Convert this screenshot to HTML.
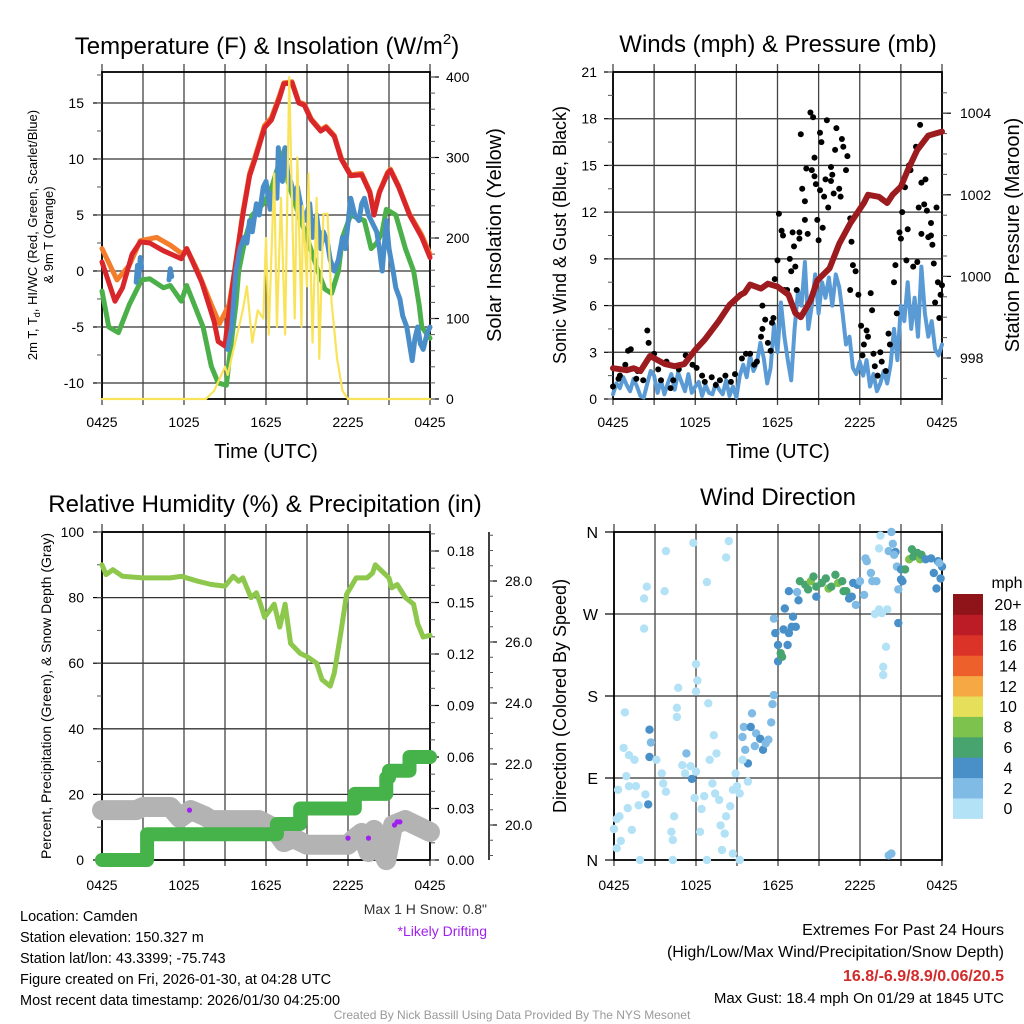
<!DOCTYPE html>
<html><head><meta charset="utf-8"><style>
html,body{margin:0;padding:0;background:#fff;}
svg{display:block;font-family:"Liberation Sans",sans-serif;}
</style></head><body>
<svg id="c" width="1024" height="1024" viewBox="0 0 1024 1024" xmlns="http://www.w3.org/2000/svg">
<rect width="1024" height="1024" fill="#fff"/>
<g id="p1"></g>
<g id="p2"></g>
<g id="p3"></g>
<g id="p4"></g>
<g id="txt">
<text x="267" y="54" font-size="24" text-anchor="middle">Temperature (F) &amp; Insolation (W/m<tspan font-size="15" dy="-10">2</tspan><tspan dy="10">)</tspan></text>
<text x="778" y="52" font-size="24" text-anchor="middle">Winds (mph) &amp; Pressure (mb)</text>
<text x="265" y="512" font-size="24" text-anchor="middle">Relative Humidity (%) &amp; Precipitation (in)</text>
<text x="778" y="505" font-size="24" text-anchor="middle">Wind Direction</text>
<text x="266" y="458" font-size="20" text-anchor="middle">Time (UTC)</text>
<text x="778" y="458" font-size="20" text-anchor="middle">Time (UTC)</text>
<text transform="translate(37,235) rotate(-90)" font-size="13" text-anchor="middle">2m T, T<tspan font-size="9" dy="3">d</tspan><tspan dy="-3">, HI/WC (Red, Green, Scarlet/Blue)</tspan></text>
<text transform="translate(53,235) rotate(-90)" font-size="13" text-anchor="middle">&amp; 9m T (Orange)</text>
<text transform="translate(501,235) rotate(-90)" font-size="20" text-anchor="middle">Solar Insolation (Yellow)</text>
<text transform="translate(566,235) rotate(-90)" font-size="18" text-anchor="middle">Sonic Wind &amp; Gust (Blue, Black)</text>
<text transform="translate(1019,235) rotate(-90)" font-size="20" text-anchor="middle">Station Pressure (Maroon)</text>
<text transform="translate(51,696) rotate(-90)" font-size="14" text-anchor="middle">Percent, Precipitation (Green), &amp; Snow Depth (Gray)</text>
<text transform="translate(566,696) rotate(-90)" font-size="18" text-anchor="middle">Direction (Colored By Speed)</text>
<text x="487" y="914" font-size="14" text-anchor="end" fill="#333">Max 1 H Snow: 0.8"</text>
<text x="487" y="936" font-size="14" text-anchor="end" fill="#a020f0">*Likely Drifting</text>
<g font-size="14.5">
<text x="20" y="921">Location: Camden</text>
<text x="20" y="942">Station elevation: 150.327 m</text>
<text x="20" y="963">Station lat/lon: 43.3399; -75.743</text>
<text x="20" y="984">Figure created on Fri, 2026-01-30, at 04:28 UTC</text>
<text x="20" y="1005">Most recent data timestamp: 2026/01/30 04:25:00</text>
</g>
<g font-size="16" text-anchor="end">
<text x="1004" y="935">Extremes For Past 24 Hours</text>
<text x="1004" y="957">(High/Low/Max Wind/Precipitation/Snow Depth)</text>
<text x="1004" y="981" fill="#d12b2b" font-weight="bold">16.8/-6.9/8.9/0.06/20.5</text>
<text x="1004" y="1003" font-size="15">Max Gust: 18.4 mph On 01/29 at 1845 UTC</text>
</g>
<text x="512" y="1019" font-size="12" text-anchor="middle" fill="#999">Created By Nick Bassill Using Data Provided By The NYS Mesonet</text>
</g>
</svg>
<script>
// ---------- DATA ----------
const timeTickLabels = ["0425","1025","1625","2225","0425"];
const tempTicks = [15,10,5,0,-5,-10];
const solarTicks = [0,100,200,300,400];
const windTicks = [0,3,6,9,12,15,18,21];
const pressTicks = [998,1000,1002,1004];
const rhTicks = [0,20,40,60,80,100];
const precipTicks = ["0.00","0.03","0.06","0.09","0.12","0.15","0.18"];
const snowTicks = ["20.0","22.0","24.0","26.0","28.0"];
const dirTicks = ["N","E","S","W","N"];
const speedBins = ["0","2","4","6","8","10","12","14","16","18","20+"];

const redH = [0,0.95,1.5,2.2,2.8,3.5,4.5,5.8,6.2,7.3,8.2,8.5,9.0,9.2,9.7,10.3,10.8,11.2,11.9,12.4,13.0,13.3,13.9,14.4,14.8,15.3,16.0,16.4,17.0,17.5,18.2,19.0,19.6,19.9,20.3,20.9,21.1,21.7,22.5,23.4,24];
const redV = [0.8,-2.7,-1.5,1.5,2.6,2.5,1.8,1.1,2.0,-1.0,-4.5,-6.3,-6.7,-4.5,0,5,8.5,10,12.8,13.5,15.5,16.7,16.8,15,14.8,13.5,12.5,12.8,12,10,8.5,8.6,7,5,7,8.7,9,7.5,5,3,1.2];
const orgH = [0,1.1,2.0,2.8,4.0,5.0,5.9,6.2,7.0,8.0,8.6,9.3,9.7,10.3,10.8,11.2,11.9,12.4,13.0,13.3,13.9,14.4,14.8,15.3,16.0,16.4,17.0,17.5,18.2,19.0,19.6,19.9,20.3,20.9,21.1,21.7,22.5,23.4,24];
const orgV = [2.0,-0.8,0.5,2.7,3.0,2.3,1.5,2.0,0,-3.0,-4.7,-3.0,0,5.2,8.7,10.2,13,13.7,15.7,16.8,16.9,15.1,14.9,13.6,12.6,12.9,12.1,10.1,8.6,8.7,7.1,5.2,7.1,8.8,9.1,7.6,5.1,3.2,1.5];
const dewH = [0,0.5,1.2,2.0,2.9,3.5,4.5,5.0,5.8,6.2,7.4,8.0,8.5,9.1,9.3,9.8,10.0,10.5,11.0,11.8,12.3,12.8,13.4,13.6,14.4,15.0,15.8,16.3,16.8,17.3,17.6,18.2,19.2,19.7,20.1,20.5,20.8,21.5,22.2,22.8,23.2,23.4,24];
const dewV = [-1.8,-5,-5.5,-3,-0.8,-0.7,-1.5,-1.3,-2.7,-1.3,-5,-8.5,-10,-10.2,-8,-3,0,3,5,6,7,9,11,8,5,3,0,-1.6,-2,0,3,5,4.5,2,2.5,3.5,5.5,5,2,0,-3,-5,-6];
const hiwcH = [2.5,2.6,2.7,2.8,2.9,null,4.9,5.0,5.1,null,9.2,9.5,9.8,10.1,10.4,10.6,10.8,11.0,11.3,11.5,11.8,12.0,12.3,12.5,12.8,12.9,13.0,13.2,13.4,13.6,13.8,14.1,14.3,14.6,14.8,15.2,15.4,15.7,16.0,16.2,16.5,16.7,17.0,17.3,17.6,17.8,18.2,18.5,18.8,19.0,19.2,19.5,19.7,20.1,20.3,20.5,20.8,21.0,21.3,21.5,21.8,22.0,22.3,22.7,22.9,23.1,23.3,23.5,23.8,24];
const hiwcV = [-1.0,0.5,-0.5,1.2,0.3,null,-0.8,0.2,-0.5,null,-7,-5,0,2,3,2.5,4.5,3.5,6,5,7.5,8,5.5,7,6.5,11,9,8,11,8.5,8,6.5,7.5,5.5,4.5,6,3,5,2,3.5,2.5,1,0,1,3,2,6.5,5,4.5,6,6.5,5,4.5,3.5,2,0,4.5,2,0,-1.5,-2.5,-4,-5,-8,-6,-5,-6.5,-7,-5.5,-5];
const solarH = [0,7.6,8.2,9.0,9.2,9.6,10.3,10.6,11.0,11.4,11.8,12.0,12.2,12.6,12.8,13.1,13.4,13.6,13.7,14.1,14.3,14.6,14.7,15.0,15.1,15.4,15.7,15.9,16.2,16.5,16.8,17.2,17.6,18.0,24];
const solarV = [0,0,10,40,30,60,110,140,70,110,100,200,80,280,90,250,80,290,400,100,300,90,240,140,280,70,250,50,230,230,120,50,10,0,0];

const windV = [0.3,1.0,0.7,1.4,0.9,0.5,1.3,0.8, 0.2,0.1,1.0,1.8, 1.5,0.4,1.2,0.3, 1.0,1.6,0.6,1.7, 1.1,0.5,1.6,0.4, 0.8,1.1,0.2,0.9, 0.4,0.3,1.0,0.6, 0.3,1.2,0.2,0.8, 0.1,1.5,2.2,1.4, 2.8,1.8,2.3,3.6, 2.6,1.0,2.0,4.8, 3.0,6.2,4.0,2.5, 1.2,4.5,7.0,6.0, 8.8,4.5,6.0,8.0, 5.5,7.5,6.5,7.8, 6.0,8.0,7.2,5.5, 3.5,4.0,2.0,1.6, 2.4,1.5,2.5,0.8, 1.6,0.5,1.0,1.8, 1.0,2.2,4.5,2.5, 6.0,5.0,7.5,4.5, 6.5,4.0,8.5,5.5, 4.0,5.0,3.2,2.8, 3.5];
const gustH = [0,0.4,0.5,0.9,1.1,1.3,1.7,1.8,2.2,2.5,2.6,3.0,3.3,3.5,3.9,4.2,4.4,4.8,5.3,5.8,6.1,6.5,6.7,7.2,7.5,7.8,8.2,8.6,8.9,9.4,9.7,10.0,10.3,10.5,10.8,10.9,11.1,11.3,11.5,11.6,11.7,10.9,11.8,12.0,12.1,12.3,12.4,12.5,12.7,12.9,13.0,13.1,13.2,13.3,13.4,13.6,13.6,13.7,13.8,14.0,14.0,14.1,14.2,14.4,14.5,14.6,14.7,14.7,14.8,14.9,15.0,15.1,15.1,15.2,15.3,15.4,15.5,15.6,15.7,15.9,15.9,16.0,16.1,16.2,16.3,16.5,16.6,16.7,16.8,17.0,17.1,17.3,17.4,17.5,17.7,17.3,17.9,18.1,18.2,18.3,18.5,18.6,18.8,18.9,19.0,19.1,19.3,19.5,19.6,19.9,20.1,20.2,20.5,20.6,20.7,20.9,21.0,21.1,21.3,21.4,21.5,21.6,21.7,21.9,22.1,22.3,22.4,22.5,22.7,22.8,22.9,23.0,23.2,23.2,23.3,23.4,23.5,23.6,23.7,23.8,23.9,24.0,22.5,22.2];
const gustV = [0.8,1.3,1.5,2.2,3.1,3.2,1.3,1.8,1.2,4.4,3.6,2.9,1.9,1.2,2.4,0.7,1.2,1.9,2.8,2.2,2.0,1.5,1.1,1.4,0.9,1.2,1.5,1.1,1.6,2.6,2.9,2.9,2.2,2.4,4.0,4.5,5.1,3.6,3.1,4.9,5.2,6.0,7.7,8.9,11.9,10.8,10.5,7.0,7.0,9.0,8.2,10.7,9.8,8.5,7.0,10.7,10.3,17.0,13.5,11.5,12.7,14.8,10.6,18.4,14.7,18.1,15.5,14.3,13.8,11.5,10.2,13.4,17.1,16.5,11.0,13.0,14.1,17.9,12.3,14.0,14.9,14.4,13.2,16.0,17.4,13.5,13.0,16.7,16.2,14.7,15.6,11.6,10.1,8.6,8.2,7.0,6.7,4.7,2.8,3.5,4.4,4.0,6.8,5.7,2.9,2.1,1.5,3.0,2.4,1.8,4.2,3.5,7.5,8.6,5.5,10.7,10.3,12.0,13.6,8.9,10.9,15.0,14.7,8.5,16.2,12.3,17.6,13.9,12.5,14.1,12.1,10.4,11.3,10.5,9.9,8.7,6.2,12.3,7.5,5.2,6.7,7.3,10.6,8.8];
const pressH = [0,1,1.5,2,2.7,3.8,4.5,5.2,6,6.7,7.7,8.5,9.3,9.6,10,10.8,11.3,12,12.8,13.3,13.7,14.4,14.9,15.8,16.5,17.3,18.3,18.6,19.4,20,20.4,21,21.5,22.2,23,23.5,24];
const pressV = [997.75,997.7,997.75,997.68,998.05,997.85,997.8,997.85,998.2,998.45,998.9,999.3,999.55,999.6,999.8,999.7,999.82,999.75,999.55,999.1,999.0,999.4,999.9,1000.2,1000.8,1001.3,1001.8,1002.0,1001.95,1001.8,1002.0,1002.2,1002.6,1003.1,1003.45,1003.5,1003.55];

const rhH = [0,0.3,0.8,1.5,3,5,5.8,7,8,9,9.6,10,10.3,10.9,11.3,11.6,11.9,12.6,13.0,13.4,13.8,14.5,15,15.7,16.1,16.7,17,17.5,17.9,18.6,19.4,19.8,20,20.5,21,21.2,21.6,22.2,22.8,23.1,23.5,24];
const rhV = [90,87,88.5,86.5,86,86,86.5,85,84,83.5,86.5,85,86,80,81.5,78,74,78,71,78,66,63,62,60,55,53,57,70,81,86,86,87.5,90,88,86,83,84,80,78,72,68,68.5];
const precipH = [0,3.2,3.3,12.8,14.5,18.5,20.8,21.0,22.5,24];
const precipV = [0,0,0.015,0.021,0.030,0.0385,0.048,0.052,0.060,0.060];
const snowH = [0,2.5,3,5,5.7,6.5,7.5,8,11.5,12.5,13.3,14,15,18,18.5,19,19.5,19.9,20.4,20.8,21.3,22.2,24];
const snowV = [20.49,20.49,20.59,20.59,20.23,20.49,20.3,20.16,20.16,19.93,19.44,19.57,19.35,19.35,19.57,19.74,19.11,19.84,19.2,18.85,20.0,20.16,19.77];
const driftH = [6.4,18.0,19.5,21.4,21.6,21.8];
const driftS = [20.49,19.57,19.57,20.0,20.1,20.1];

const dirH = [0,0.2,0.2,0.5,0.3,0.4,0.8,0.7,1.1,1.5,0.9,1.1,1.6,1.0,1.8,1.3,1.9,2.2,2.4,2.2,2.6,2.7,2.6,2.5,2.3,3.1,3.5,3.6,3.8,4.2,4.4,4.3,4.3,3.7,3.8,4.7,4.6,4.6,5.0,5.3,5.6,5.2,5.7,5.9,6.0,6.0,6.1,6.0,5.8,6.8,6.4,6.6,6.9,7.0,7.3,7.5,7.2,7.4,7.7,6.8,6.3,7.8,8.1,7.9,8.2,8.4,8.2,8.9,9.0,8.7,9.2,8.5,8.7,9.2,
 9.4,9.5,9.6,9.8,10.1,10.0,10.3,10.4,10.7,10.9,11.1,11.3,11.5,11.6,11.7,9.8,9.4,
 12.0,12.0,12.2,12.3,11.8,11.7,12.4,12.8,12.7,13.0,13.1,13.3,12.5,12.8,13.5,13.4,
 13.6,14.0,14.2,14.4,14.6,14.8,14.8,15.2,15.5,15.7,15.9,16.2,16.4,16.7,16.8,17.0,17.2,17.4,17.5,17.7,17.8,18.0,18.3,
 18.4,18.5,18.8,18.9,19.2,19.4,19.1,19.6,20.0,19.9,19.7,19.7,19.5,19.4,20.3,20.4,20.1,20.6,20.5,20.7,20.8,20.8,21.0,21.1,21.0,20.1,20.3,21.3,21.6,21.8,21.9,22.2,22.4,22.5,22.8,23.2,23.4,23.6,23.7,23.9,24.0,23.8];
const dirDeg = [34,45,13,21,77,48,162,123,115,110,92,81,81,57,60,33,0,287,300,254,143,129,113,61,72,110,95,84,75,31,48,22,0,295,339,189,167,157,104,117,103,95,89,68,97,215,197,185,348,305,56,70,172,110,137,117,84,73,66,0,31,38,29,11,48,350,332,95,81,77,73,59,7,0,
 135,146,121,106,161,146,125,139,133,121,128,132,151,171,181,86,110,
 218,236,227,223,249,265,253,249,236,256,267,256,276,295,285,294,
 306,302,297,306,311,300,289,304,309,298,300,313,304,306,295,295,287,289,304,280,302,306,291,
 331,328,315,306,306,275,270,271,275,234,212,203,356,342,360,347,339,338,335,322,297,260,308,306,319,5,7,319,330,341,333,337,330,335,330,331,315,298,328,309,322,326];
const dirSpeed = [1,1,1,1,1,1,1,1,1,1,1,1,1,1,1,1,1,1,1,1,5,3,5,5,1,1,1,1,1,1,1,1,1,1,1,1,1,1,1,3,1,1,5,1,1,1,1,1,1,1,1,1,1,1,1,1,1,1,1,1,1,1,1,1,1,1,1,1,1,1,1,1,1,1,
 3,3,3,5,3,5,3,3,5,5,3,3,3,3,3,1,1,
 5,5,7,7,5,3,5,5,5,5,5,5,5,5,5,3,
 7,7,7,9,7,7,5,7,7,9,7,7,9,7,7,7,5,5,5,3,5,3,3,
 3,3,3,3,3,1,1,1,1,1,1,1,1,1,3,3,3,5,3,3,3,5,5,5,5,3,3,7,9,7,7,7,9,7,5,5,5,5,5,5,5,3];

// ---------- HELPERS ----------
const NS = "http://www.w3.org/2000/svg";
function mk(parent, tag, attrs) {
  const e = document.createElementNS(NS, tag);
  for (const k in attrs) e.setAttribute(k, attrs[k]);
  parent.appendChild(e);
  return e;
}
function polyline(g, xs, ys, sx, sy, color, w, name) {
  let d = "", pen = false;
  for (let i = 0; i < xs.length; i++) {
    if (xs[i] === null || ys[i] === null) { pen = false; continue; }
    d += (pen ? "L" : "M") + sx(xs[i]).toFixed(1) + "," + sy(ys[i]).toFixed(1);
    pen = true;
  }
  const p = mk(g, "path", {d: d, fill: "none", stroke: color, "stroke-width": w, "stroke-linejoin": "round", "stroke-linecap": "round"});
  
  
  return p;
}
function frame(g, x0, y0, x1, y1, hgrid, vx, name) {
  const gg = mk(g, "g", {});
  
  
  hgrid.forEach(y => mk(gg, "line", {x1: x0, x2: x1, y1: y, y2: y, stroke: "#333", "stroke-width": 1.3}));
  vx.forEach(x => mk(gg, "line", {x1: x, x2: x, y1: y0 - 8, y2: y1 + 6, stroke: "#444", "stroke-width": 1.3}));
  const r = mk(gg, "rect", {x: x0, y: y0, width: x1 - x0, height: y1 - y0, fill: "none", stroke: "#000", "stroke-width": 1.8});
}
function ticksV(g, x, yList, len, minorList, mlen) {
  yList.forEach(y => mk(g, "line", {x1: x, x2: x + len, y1: y, y2: y, stroke: "#000", "stroke-width": 1.2}));
  minorList.forEach(y => mk(g, "line", {x1: x, x2: x + mlen, y1: y, y2: y, stroke: "#555", "stroke-width": 1}));
}
function label(g, x, y, t, anchor, size, name) {
  const e = mk(g, "text", {x: x, y: y, "font-size": size || 14, "text-anchor": anchor || "middle"});
  e.textContent = t;
  
  
  return e;
}
function range(a, b, s) { const r = []; for (let v = a; v <= b + 1e-9; v += s) r.push(v); return r; }

// ---------- PANEL 1 ----------
(function () {
  const g = document.getElementById("p1");
  const X0 = 102, X1 = 430, Y0 = 72, Y1 = 399;
  const x = h => X0 + h * (X1 - X0) / 24;
  const yT = v => Y1 - (v + 11.43) * 11.2;
  const yS = v => Y1 - v * (Y1 - 77) / 400;
  frame(g, X0, Y0, X1, Y1, tempTicks.map(yT), range(0, 24, 3).map(x), "temperature");
  ticksV(g, X0, tempTicks.map(yT), -9, range(-10, 17.5, 2.5).map(yT), -5);
  tempTicks.forEach(v => label(g, 84, yT(v) + 5, String(v), "end", 14, "temp-tick-label"));
  ticksV(g, X1, solarTicks.map(yS), 9, range(0, 410, 20).map(yS), 5);
  solarTicks.forEach(v => label(g, 446, yS(v) + 5, String(v), "start", 14, "solar-tick-label"));
  timeTickLabels.forEach((t, i) => label(g, x(i * 6), 427, t, "middle", 14, "time-tick-label"));
  polyline(g, orgH, orgV, x, yT, "#f47d2c", 5, "temp-9m-line");
  polyline(g, redH, redV, x, yT, "#d9262a", 5, "temp-2m-line");
  polyline(g, dewH, dewV, x, yT, "#4bb04a", 5, "dewpoint-line");
  polyline(g, hiwcH, hiwcV, x, yT, "#4a8ec9", 5, "heat-index-windchill-line");
  polyline(g, solarH, solarV, x, yS, "#f9e35a", 2.2, "solar-insolation-line");
})();

// ---------- PANEL 2 ----------
(function () {
  const g = document.getElementById("p2");
  const X0 = 613, X1 = 942, Y0 = 72, Y1 = 399;
  const x = h => X0 + h * (X1 - X0) / 24;
  const yW = v => Y1 - v * (Y1 - Y0) / 21;
  const yP = p => 358 - (p - 998) * 40.8;
  frame(g, X0, Y0, X1, Y1, windTicks.map(yW), range(0, 24, 3).map(x), "winds");
  ticksV(g, X0, windTicks.map(yW), -9, range(0, 21, 1.5).map(yW), -5);
  windTicks.forEach(v => label(g, 597, yW(v) + 5, String(v), "end", 14, "wind-tick-label"));
  ticksV(g, X1, pressTicks.map(yP), 9, range(997.5, 1004.5, 0.5).map(yP), 5);
  pressTicks.forEach(v => label(g, 960, yP(v) + 5, String(v), "start", 14, "pressure-tick-label"));
  timeTickLabels.forEach((t, i) => label(g, x(i * 6), 427, t, "middle", 14, "time-tick-label"));
  const wh = windV.map((v, i) => i * 0.25);
  polyline(g, wh, windV, x, yW, "#5b9bd5", 4, "sonic-wind-line");
  gustH.forEach((h, i) => {
    const c = mk(g, "circle", {cx: x(h).toFixed(1), cy: yW(gustV[i]).toFixed(1), r: 3, fill: "#000"});
    
    
  });
  polyline(g, pressH, pressV, x, yP, "#9b1b1f", 6, "pressure-line");
})();

// ---------- PANEL 3 ----------
(function () {
  const g = document.getElementById("p3");
  const X0 = 102, X1 = 430, Y0 = 532, Y1 = 860;
  const x = h => X0 + h * (X1 - X0) / 24;
  const yR = v => Y1 - v * (Y1 - Y0) / 100;
  const yPr = v => Y1 - v * (Y1 - 551) / 0.18;
  const ySn = s => 825 - (s - 20) * 30.5;
  frame(g, X0, Y0, X1, Y1, rhTicks.map(yR), range(0, 24, 3).map(x), "humidity");
  ticksV(g, X0, rhTicks.map(yR), -9, range(0, 100, 10).map(yR), -5);
  rhTicks.forEach(v => label(g, 84, yR(v) + 5, String(v), "end", 14, "rh-tick-label"));
  ticksV(g, X1, precipTicks.map(v => yPr(+v)), 9, range(0, 0.19, 0.01).map(yPr), 5);
  precipTicks.forEach(v => label(g, 447, yPr(+v) + 5, v, "start", 14, "precip-tick-label"));
  mk(g, "line", {x1: 489, x2: 489, y1: Y0, y2: Y1, stroke: "#000", "stroke-width": 1.5});
  ticksV(g, 489, snowTicks.map(v => ySn(+v)), 8, range(19, 29.5, 0.5).map(ySn), 4);
  snowTicks.forEach(v => label(g, 505, ySn(+v) + 5, v, "start", 14, "snow-tick-label"));
  timeTickLabels.forEach((t, i) => label(g, x(i * 6), 890, t, "middle", 14, "time-tick-label"));
  polyline(g, snowH, snowV, x, ySn, "#b3b3b3", 20, "snow-depth-line");
  driftH.forEach((h, i) => {
    const c = mk(g, "circle", {cx: x(h).toFixed(1), cy: ySn(driftS[i]).toFixed(1), r: 2.6, fill: "#a020f0"});
    
    
  });
  let d = "";
  precipH.forEach((h, i) => {
    if (i === 0) d += "M" + x(h) + "," + yPr(precipV[i]);
    else d += "L" + x(h) + "," + yPr(precipV[i - 1]) + "L" + x(h) + "," + yPr(precipV[i]);
  });
  const pp = mk(g, "path", {d: d, fill: "none", stroke: "#46b34a", "stroke-width": 14, "stroke-linecap": "round", "stroke-linejoin": "round"});
  
  
  polyline(g, rhH, rhV, x, yR, "#8dc84c", 5, "relative-humidity-line");
})();

// ---------- PANEL 4 ----------
(function () {
  const g = document.getElementById("p4");
  const X0 = 614, X1 = 942, Y0 = 532, Y1 = 860;
  const x = h => X0 + h * (X1 - X0) / 24;
  const yD = d => Y1 - d * (Y1 - Y0) / 360;
  const colors = ["#b3e2f7","#7fbbe5","#4a90c8","#48a46e","#7dc24c","#e6df5a","#f5a843","#ee602b","#dc3328","#bb1c25","#8f1419"];
  frame(g, X0, Y0, X1, Y1, [90,180,270].map(yD), range(0, 24, 3).map(x), "direction");
  ticksV(g, X0, [0,90,180,270,360].map(yD), -9, [], 0);
  dirTicks.forEach((t, i) => label(g, 598, yD(i * 90) + 6, t, "end", 16, "direction-tick-label"));
  timeTickLabels.forEach((t, i) => label(g, x(i * 6), 890, t, "middle", 14, "time-tick-label"));
  dirH.forEach((h, i) => {
    const bin = Math.min(10, Math.floor(dirSpeed[i] / 2));
    const c = mk(g, "circle", {cx: x(Math.min(h, 24)).toFixed(1), cy: yD(dirDeg[i]).toFixed(1), r: 4.2, fill: colors[bin]});
    
    
  });
  const cb = mk(g, "g", {});
  
  
  const bh = 20.4, top = 594;
  speedBins.forEach((t, i) => {
    const yy = top + (10 - i) * bh;
    mk(cb, "rect", {x: 953, y: yy, width: 30, height: bh + 0.5, fill: colors[i]});
    label(cb, 1008, yy + bh / 2 + 6, t, "middle", 16, "colorbar-label");
  });
  label(cb, 1007, 588, "mph", "middle", 16, "colorbar-title");
})();
</script>
</body></html>
